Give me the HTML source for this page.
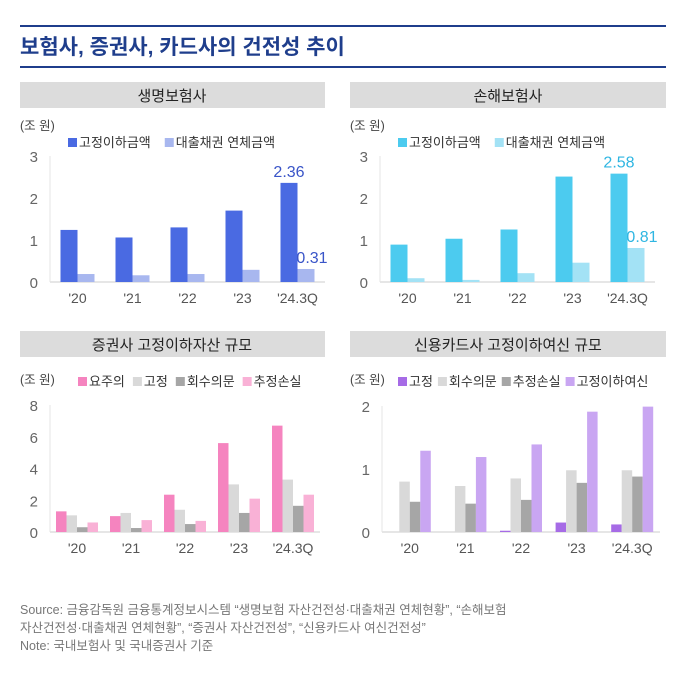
<!DOCTYPE html>
<html><head><meta charset="utf-8">
<style>
body{margin:0;background:#fff;width:700px;height:669px;overflow:hidden;font-family:"Liberation Sans","Noto Sans CJK KR",sans-serif;}
svg text{font-family:"Liberation Sans","Noto Sans CJK KR",sans-serif;}
</style></head>
<body>
<svg id="root" width="700" height="669" xmlns="http://www.w3.org/2000/svg">
<line x1="20" y1="26" x2="666" y2="26" stroke="#1f3e8c" stroke-width="2"/>
<text x="20" y="54" font-size="21" font-weight="bold" fill="#1f3e8c">보험사, 증권사, 카드사의 건전성 추이</text>
<line x1="20" y1="67" x2="666" y2="67" stroke="#1f3e8c" stroke-width="2"/>
<rect x="20" y="82" width="305" height="26" fill="#dcdcdc"/>
<text x="172" y="101" font-size="15" text-anchor="middle" fill="#222">생명보험사</text>
<rect x="350" y="82" width="316" height="26" fill="#dcdcdc"/>
<text x="508" y="101" font-size="15" text-anchor="middle" fill="#222">손해보험사</text>
<rect x="20" y="331" width="305" height="26" fill="#dcdcdc"/>
<text x="172" y="350" font-size="15" text-anchor="middle" fill="#222">증권사 고정이하자산 규모</text>
<rect x="350" y="331" width="316" height="26" fill="#dcdcdc"/>
<text x="508" y="350" font-size="15" text-anchor="middle" fill="#222">신용카드사 고정이하여신 규모</text>
<g id="charts"></g>
<text x="20" y="614" font-size="12.5" fill="#777">Source: 금융감독원 금융통계정보시스템 “생명보험 자산건전성·대출채권 연체현황”, “손해보험</text>
<text x="20" y="632" font-size="12.5" fill="#777">자산건전성·대출채권 연체현황”, “증권사 자산건전성”, “신용카드사 여신건전성”</text>
<text x="20" y="650" font-size="12.5" fill="#777">Note: 국내보험사 및 국내증권사 기준</text>
</svg>
<script>
const categories = ["'20","'21","'22","'23","'24.3Q"];
const lifeNames = ["고정이하금액","대출채권 연체금액"];
const lifeFixed = [1.24,1.06,1.30,1.70,2.36];
const lifeOverdue = [0.19,0.16,0.19,0.29,0.31];
const nonlifeFixed = [0.89,1.03,1.25,2.51,2.58];
const nonlifeOverdue = [0.09,0.05,0.21,0.46,0.81];
const secNames = ["요주의","고정","회수의문","추정손실"];
const secCaution = [1.3,1.0,2.35,5.6,6.7];
const secFixed = [1.05,1.2,1.4,3.0,3.3];
const secDoubtful = [0.3,0.25,0.5,1.2,1.65];
const secLoss = [0.6,0.75,0.7,2.1,2.35];
const cardNames = ["고정","회수의문","추정손실","고정이하여신"];
const cardFixed = [0,0,0.02,0.15,0.12];
const cardDoubtful = [0.8,0.73,0.85,0.98,0.98];
const cardLoss = [0.48,0.45,0.51,0.78,0.88];
const cardTotal = [1.29,1.19,1.39,1.91,1.99];
const lifeTicks = [0,1,2,3];
const secTicks = [0,2,4,6,8];
const cardTicks = [0,1,2];
const lifeLabels = ["2.36","0.31"];
const nonlifeLabels = ["2.58","0.81"];

const NS="http://www.w3.org/2000/svg";
const root=document.getElementById('charts');
function mk(tag,attrs,parent){const e=document.createElementNS(NS,tag);for(const k in attrs)e.setAttribute(k,attrs[k]);(parent||root).appendChild(e);return e;}

function chart(cfg){
  const g=mk('g',{});
  
  
  const y=v=>cfg.y0-(v/cfg.max)*(cfg.y0-cfg.yTop);
  const step=(cfg.x1-cfg.x0)/categories.length;
  const xc=i=>cfg.x0+step*(i+0.5);
  const ax=mk('line',{x1:cfg.x0,y1:cfg.y0,x2:cfg.x1,y2:cfg.y0,stroke:'#ccc','stroke-width':1},g);
  
  
  const ay=mk('line',{x1:cfg.x0,y1:cfg.y0,x2:cfg.x0,y2:cfg.yTop,stroke:'#e4e4e4','stroke-width':1},g);
  
  
  cfg.ticks.forEach(t=>{
    const tx=mk('text',{x:cfg.x0-12,y:y(t)+6,'font-size':15,'text-anchor':'end',fill:'#666'},g);
    tx.textContent=t;
    
    
  });
  const unit=mk('text',{x:cfg.unitX,y:cfg.unitY,'font-size':12.5,fill:'#444'},g);
  unit.textContent='(조 원)';
  
  
  const n=cfg.series.length;
  categories.forEach((c,i)=>{
    cfg.series.forEach((s,j)=>{
      const bx=xc(i)-n*cfg.bw/2+j*cfg.bw;
      const r=mk('rect',{x:bx,y:y(s[i]),width:cfg.bw,height:Math.max(0,cfg.y0-y(s[i])),fill:cfg.colors[j]},g);
      
      
    });
    const lt=mk('text',{x:xc(i),y:cfg.y0+21,'font-size':14,'text-anchor':'middle',fill:'#555'},g);
    lt.textContent=c;
    
    
  });
  // legend
  let lx=cfg.legX;
  cfg.names.forEach((nm,j)=>{
    const sw=mk('rect',{x:lx,y:cfg.legY-9,width:9,height:9,fill:cfg.colors[j]},g);
    
    
    const t=mk('text',{x:lx+11,y:cfg.legY,'font-size':13,fill:'#333'},g);
    t.textContent=nm;
    
    
    lx+=11+t.getComputedTextLength()+cfg.legGap;
  });
  if(cfg.labels){
    const last=categories.length-1;
    cfg.series.forEach((s,j)=>{
      const bx=xc(last)-n*cfg.bw/2+j*cfg.bw+cfg.bw/2;
      const t=mk('text',{x:bx+(j?6:0),y:y(s[last])-6,'font-size':16,'text-anchor':'middle',fill:cfg.labelColors[j]},g);
      t.textContent=cfg.labels[j];
      
      
    });
  }
}
chart({name:'life-insurance-chart',x0:50,x1:325,y0:282,yTop:156,max:3,ticks:lifeTicks,bw:17,
  series:[lifeFixed,lifeOverdue],names:lifeNames,colors:['#4a6ae2','#a8b7ef'],
  unitX:20,unitY:130,legX:68,legY:147,legGap:14,labels:lifeLabels,labelColors:['#3a55c8','#3a55c8']});
chart({name:'nonlife-insurance-chart',x0:380,x1:655,y0:282,yTop:156,max:3,ticks:lifeTicks,bw:17,
  series:[nonlifeFixed,nonlifeOverdue],names:lifeNames,colors:['#4ccbef','#a3e2f5'],
  unitX:350,unitY:130,legX:398,legY:147,legGap:14,labels:nonlifeLabels,labelColors:['#2fb6e2','#2fb6e2']});
chart({name:'securities-chart',x0:50,x1:320,y0:532,yTop:405,max:8,ticks:secTicks,bw:10.5,
  series:[secCaution,secFixed,secDoubtful,secLoss],names:secNames,colors:['#f584bf','#d9d9d9','#a6a6a6','#f9b1d6'],
  unitX:20,unitY:384,legX:78,legY:386,legGap:8});
chart({name:'credit-card-chart',x0:382,x1:660,y0:532,yTop:406,max:2,ticks:cardTicks,bw:10.5,
  series:[cardFixed,cardDoubtful,cardLoss,cardTotal],names:cardNames,colors:['#a66be6','#d9d9d9','#a6a6a6','#c9a6f2'],
  unitX:350,unitY:384,legX:398,legY:386,legGap:5});
</script>
</body></html>
